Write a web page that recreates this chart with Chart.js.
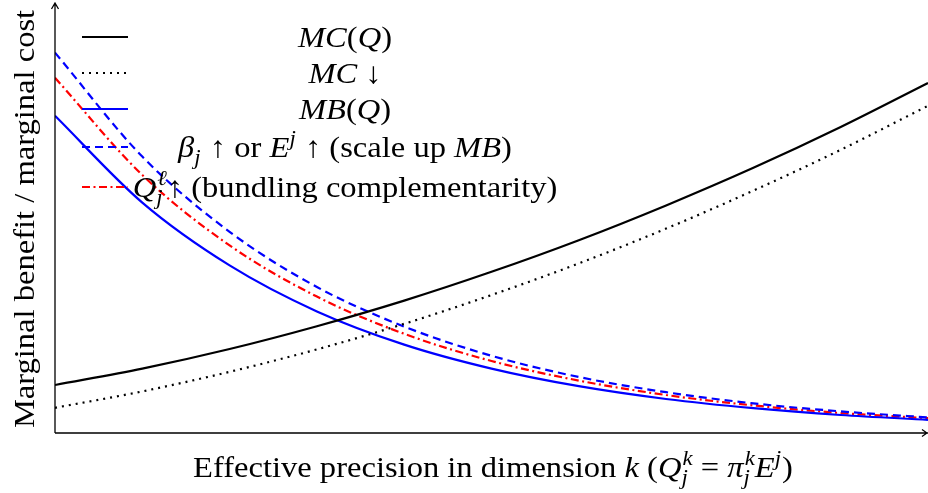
<!DOCTYPE html>
<html>
<head>
<meta charset="utf-8">
<script src="https://cdn.jsdelivr.net/npm/chart.js@4.4.1/dist/chart.umd.min.js"></script>
<style>
  html, body { margin: 0; padding: 0; background: #fff; }
  #chart { display: block; }
</style>
</head>
<body>
<canvas id="chart" width="928" height="493"></canvas>
<script>
// effective precision k (arbitrary units, no ticks shown)
const kValues = [0, 1, 2, 3, 4, 5, 6, 7, 8, 9, 10];
// marginal cost curves
const mcBase  = [1.20, 1.61, 2.10, 2.67, 3.31, 4.03, 4.82, 5.69, 6.63, 7.65, 8.75];
const mcLower = [0.63, 1.04, 1.53, 2.09, 2.73, 3.45, 4.24, 5.11, 6.06, 7.08, 8.18];
// marginal benefit curves
const mbBase    = [7.93, 5.76, 4.19, 3.04, 2.21, 1.61, 1.17, 0.85, 0.62, 0.45, 0.33];
const mbScaled  = [9.51, 6.91, 5.03, 3.65, 2.66, 1.93, 1.40, 1.02, 0.74, 0.54, 0.39];
const mbBundled = [8.88, 6.45, 4.69, 3.41, 2.48, 1.80, 1.31, 0.95, 0.69, 0.50, 0.37];

const FONT = '"Liberation Serif", "DejaVu Serif", serif';
const FS = 30;
const SX = 1.085; // latex fonts run a bit wider than Liberation

function pts(arr) {
    return arr.map((v, i) => ({ x: kValues[i], y: v }));
}

const styles = [
    { data: mcBase,    color: '#000000', dash: [] },
    { data: mcLower,   color: '#000000', dash: [2, 5] },
    { data: mbBase,    color: '#0000ff', dash: [] },
    { data: mbScaled,  color: '#0000ff', dash: [8, 5] },
    { data: mbBundled, color: '#ff0000', dash: [8, 3.5, 2, 3.5] }
];

// rich text pieces: t = text, it = italic, sub/sup = scripts
const legendRows = [
    [{ t: 'MC', it: 1 }, { t: '(' }, { t: 'Q', it: 1 }, { t: ')' }],
    [{ t: 'MC', it: 1 }, { t: ' \u2193' }],
    [{ t: 'MB', it: 1 }, { t: '(' }, { t: 'Q', it: 1 }, { t: ')' }],
    [{ t: '\u03B2', it: 1, sub: 'j' }, { t: ' \u2191 or ' }, { t: 'E', it: 1, sup: 'j' },
     { t: ' \u2191 (scale up ' }, { t: 'MB', it: 1 }, { t: ')' }],
    [{ t: 'Q', it: 1, sub: 'j', sup: '\u2113' }, { t: '\u2191 (bundling complementarity)' }]
];
const legendY = [37, 73, 109, 147, 187];

const xTitle = [{ t: 'Effective precision in dimension ' }, { t: 'k', it: 1 }, { t: ' (' },
    { t: 'Q', it: 1, sub: 'j', sup: 'k' }, { t: ' = ' }, { t: '\u03C0', it: 1, sub: 'j', sup: 'k' },
    { t: 'E', it: 1, sup: 'j' }, { t: ')' }];
const yTitle = [{ t: 'Marginal benefit / marginal cost' }];

function font(it, size) {
    return (it ? 'italic ' : '') + size + 'px ' + FONT;
}

function richWidth(ctx, parts, size) {
    let w = 0;
    parts.forEach(p => {
        ctx.font = font(p.it, size);
        w += ctx.measureText(p.t).width;
        let sw = 0;
        ctx.font = font(true, size * 0.7);
        if (p.sub) sw = Math.max(sw, ctx.measureText(p.sub).width);
        if (p.sup) sw = Math.max(sw, ctx.measureText(p.sup).width);
        w += sw ? sw + 1 : 0;
    });
    return w;
}

function drawRich(ctx, parts, cx, y, size) {
    ctx.save();
    ctx.translate(cx, y);
    ctx.scale(SX, 1);
    let x = -richWidth(ctx, parts, size) / 2;
    ctx.fillStyle = '#000';
    ctx.textBaseline = 'alphabetic';
    ctx.textAlign = 'left';
    parts.forEach(p => {
        ctx.font = font(p.it, size);
        ctx.fillText(p.t, x, 0);
        x += ctx.measureText(p.t).width;
        let sw = 0;
        ctx.font = font(true, size * 0.7);
        if (p.sub) {
            ctx.fillText(p.sub, x, size * 0.22);
            sw = Math.max(sw, ctx.measureText(p.sub).width);
        }
        if (p.sup) {
            ctx.fillText(p.sup, x + (p.sub ? 1 : 0), -size * 0.4);
            sw = Math.max(sw, ctx.measureText(p.sup).width);
        }
        x += sw ? sw + 1 : 0;
    });
    ctx.restore();
}

const decorations = {
    id: 'decorations',
    afterDraw(chart) {
        const ctx = chart.ctx;
        const a = chart.chartArea;
        ctx.save();

        // axes with arrow heads
        ctx.strokeStyle = '#000';
        ctx.lineWidth = 1.3;
        ctx.setLineDash([]);
        ctx.beginPath();
        ctx.moveTo(a.left, a.bottom);
        ctx.lineTo(a.left, 3);
        ctx.moveTo(a.left - 3.5, 9);
        ctx.lineTo(a.left, 3);
        ctx.lineTo(a.left + 3.5, 9);
        ctx.moveTo(a.left, a.bottom);
        ctx.lineTo(928, a.bottom);
        ctx.moveTo(922, a.bottom - 3.5);
        ctx.lineTo(927, a.bottom);
        ctx.lineTo(922, a.bottom + 3.5);
        ctx.stroke();

        // legend
        legendRows.forEach((row, i) => {
            const s = styles[i];
            ctx.strokeStyle = s.color;
            ctx.lineWidth = 2.2;
            ctx.setLineDash(s.dash);
            ctx.beginPath();
            ctx.moveTo(82, legendY[i]);
            ctx.lineTo(128, legendY[i]);
            ctx.stroke();
            ctx.setLineDash([]);
            drawRich(ctx, row, 345, legendY[i] + 10, FS);
        });

        // axis titles
        drawRich(ctx, xTitle, 493, 477, FS);
        ctx.translate(34, 219);
        ctx.rotate(-Math.PI / 2);
        drawRich(ctx, yTitle, 0, 0, FS);
        ctx.restore();
    }
};

new Chart(document.getElementById('chart').getContext('2d'), {
    type: 'line',
    data: {
        datasets: styles.map(s => ({
            data: pts(s.data),
            borderColor: s.color,
            borderDash: s.dash,
            borderWidth: 2.2,
            pointRadius: 0,
            fill: false,
            cubicInterpolationMode: 'monotone'
        }))
    },
    options: {
        responsive: false,
        animation: false,
        layout: { padding: { left: 55, right: 0, top: 5, bottom: 60 } },
        scales: {
            x: { type: 'linear', min: 0, max: 10, display: false },
            y: { min: 0, max: 10.7, display: false }
        },
        plugins: {
            legend: { display: false },
            tooltip: { enabled: false }
        }
    },
    plugins: [decorations]
});
</script>
</body>
</html>
